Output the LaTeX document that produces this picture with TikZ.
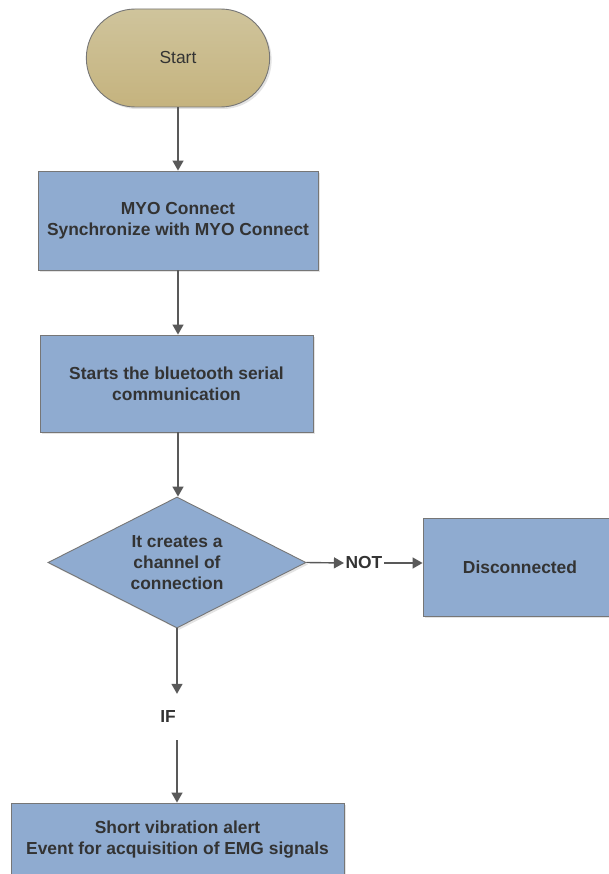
\documentclass[tikz,border=0pt]{standalone}
\usepackage{fontspec}
\setmainfont{Liberation Sans}
\usetikzlibrary{shapes.geometric,shapes.misc,arrows.meta,shadows}
\definecolor{boxfill}{HTML}{8FABD0}
\definecolor{boxline}{HTML}{767676}
\definecolor{tantop}{HTML}{CFC49C}
\definecolor{tanbot}{HTML}{C5B37E}
\definecolor{txt}{HTML}{333333}
\definecolor{conn}{HTML}{595959}
\tikzset{
  shad/.style={drop shadow={opacity=0.22,shadow xshift=2pt,shadow yshift=-2pt}},
  procbox/.style={rectangle,draw=boxline,line width=0.9pt,fill=boxfill,shad,
    text=txt,align=center,inner sep=0pt,
    font=\fontsize{17.4}{21}\selectfont\bfseries},
  startbox/.style={rounded rectangle,draw=boxline,line width=0.9pt,
    top color=tantop,bottom color=tanbot,shad,text=txt,
    font=\fontsize{17.4}{21}\selectfont},
  decbox/.style={diamond,draw=boxline,line width=0.9pt,fill=boxfill,shad,
    text=txt,align=center,inner sep=0pt,shape aspect=1.97,
    font=\fontsize{17.4}{21}\selectfont\bfseries},
  lbl/.style={text=txt,inner sep=1.5pt,font=\fontsize{17.4}{21}\selectfont\bfseries},
  arr/.style={draw=conn,line width=1.4pt,-{Triangle[length=10pt,width=11pt]},color=conn}
}
\begin{document}
\begin{tikzpicture}[x=1pt,y=-1pt]
\useasboundingbox (0,0) rectangle (609,874);
\clip (0,0) rectangle (609,874);
\fill[white] (0,0) rectangle (609,874);

\node[startbox,minimum width=190pt,minimum height=98pt] (start) at (178,58) {Start};
\node[procbox,minimum width=280pt,minimum height=99pt] (b1) at (178,220.5)
  {MYO Connect\\Synchronize with MYO Connect};
\node[procbox,minimum width=273pt,minimum height=97pt] (b2) at (176.5,383.5)
  {Starts the bluetooth serial\\communication};
\node[decbox,minimum width=258pt,minimum height=131pt] (dia) at (177,562.5)
  {It creates a\\channel of\\connection};
\node[procbox,minimum width=194pt,minimum height=98pt] (dis) at (520,567) {Disconnected};
\node[lbl] (not) at (364,563) {NOT};
\node[lbl,minimum height=46pt] (if) at (168,717) {IF};
\node[procbox,minimum width=333pt,minimum height=73pt] (b3) at (177.5,839.5)
  {Short vibration alert\\Event for acquisition of EMG signals};

\draw[arr] (start.south) -- (start.south |- b1.north);
\draw[arr] (b1.south) -- (b1.south |- b2.north);
\draw[arr] (b1.south |- b2.south) -- (b1.south |- dia.north);
\draw[arr] (dia.east) -- (not.west);
\draw[arr] (not.east) -- (dis.west |- not.east);
\draw[arr] (dia.south) -- (dia.south |- if.north);
\draw[arr] (dia.south |- if.south) -- (dia.south |- b3.north);
\end{tikzpicture}
\end{document}
